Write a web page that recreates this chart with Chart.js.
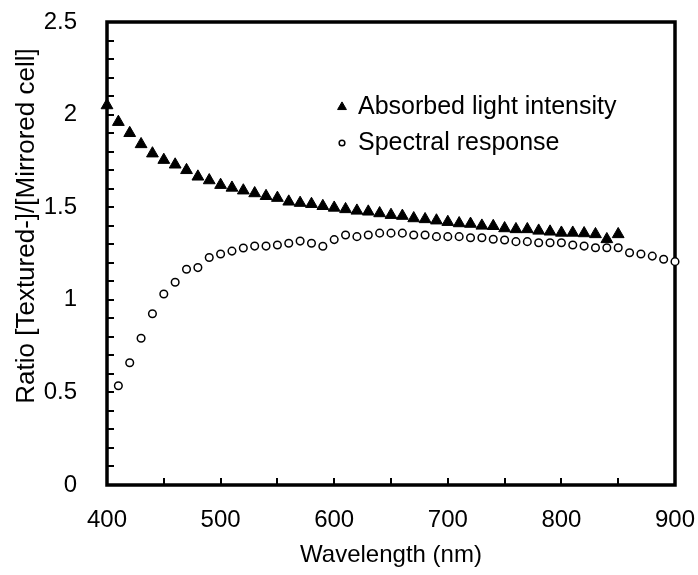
<!DOCTYPE html>
<html>
<head>
<meta charset="utf-8">
<script src="https://cdn.jsdelivr.net/npm/chart.js@4.4.0/dist/chart.umd.min.js"></script>
<style>
  html, body { margin: 0; padding: 0; background: #fff; }
</style>
</head>
<body>
<canvas id="chart" width="698" height="575"></canvas>
<script>
// absorbed light intensity ratio (triangles)
const absWavelength = [400, 410, 420, 430, 440, 450, 460, 470, 480, 490,
  500, 510, 520, 530, 540, 550, 560, 570, 580, 590,
  600, 610, 620, 630, 640, 650, 660, 670, 680, 690,
  700, 710, 720, 730, 740, 750, 760, 770, 780, 790,
  800, 810, 820, 830, 840, 850];
const absorbedLight = [2.05, 1.96, 1.90, 1.84, 1.79, 1.755, 1.73, 1.70, 1.665, 1.645,
  1.62, 1.605, 1.59, 1.575, 1.56, 1.55, 1.53, 1.523, 1.517, 1.506,
  1.497, 1.489, 1.481, 1.476, 1.467, 1.458, 1.453, 1.44, 1.435, 1.428,
  1.42, 1.413, 1.41, 1.40, 1.398, 1.386, 1.381, 1.381, 1.373, 1.368,
  1.362, 1.362, 1.359, 1.354, 1.327, 1.354];

// spectral response ratio (open circles)
const srWavelength = [410, 420, 430, 440, 450, 460, 470, 480, 490,
  500, 510, 520, 530, 540, 550, 560, 570, 580, 590,
  600, 610, 620, 630, 640, 650, 660, 670, 680, 690,
  700, 710, 720, 730, 740, 750, 760, 770, 780, 790,
  800, 810, 820, 830, 840, 850, 860, 870, 880, 890, 900];
const spectralResponse = [0.536, 0.66, 0.792, 0.925, 1.031, 1.095, 1.165, 1.174, 1.228,
  1.247, 1.263, 1.28, 1.29, 1.29, 1.296, 1.305, 1.317, 1.305, 1.289,
  1.325, 1.35, 1.341, 1.35, 1.36, 1.36, 1.36, 1.35, 1.35, 1.341,
  1.341, 1.341, 1.335, 1.335, 1.327, 1.323, 1.314, 1.314, 1.308, 1.308,
  1.308, 1.296, 1.29, 1.281, 1.281, 1.281, 1.254, 1.247, 1.236, 1.219, 1.206];

const seriesNames = ["Absorbed light intensity", "Spectral response"];
const xTickLabels = [400, 500, 600, 700, 800, 900];
const yTickLabels = [0, 0.5, 1, 1.5, 2, 2.5];
const xMinorStep = 50;
const yMinorStep = 0.1;
const yTitle = "Ratio [Textured-]/[Mirrored cell]";

const fontFamily = 'Arial, "Liberation Sans", sans-serif';
Chart.defaults.font.family = fontFamily;
Chart.defaults.font.size = 24;
Chart.defaults.color = "#000";

const toPoints = (xs, ys) => xs.map((x, i) => ({ x: x, y: ys[i] }));

// frame + inward tick marks, like the original spreadsheet plot
const frameTicks = {
  id: "frameTicks",
  beforeDatasetsDraw(chart) {
    const { ctx, chartArea: a, scales: { x, y } } = chart;
    ctx.save();
    ctx.strokeStyle = "#000";
    ctx.lineWidth = 2;
    ctx.beginPath();
    for (let v = y.min; v <= y.max + 1e-9; v += yMinorStep) {
      const py = Math.round(y.getPixelForValue(v));
      ctx.moveTo(a.left, py);
      ctx.lineTo(a.left + 7, py);
    }
    for (let v = x.min; v <= x.max; v += xMinorStep) {
      const px = Math.round(x.getPixelForValue(v));
      ctx.moveTo(px, a.bottom);
      ctx.lineTo(px, a.bottom - 7);
    }
    ctx.stroke();
    ctx.lineWidth = 3.5;
    ctx.strokeRect(a.left, a.top, a.right - a.left, a.bottom - a.top);

    // y title sits a bit above the middle in the original
    ctx.font = "26px " + fontFamily;
    ctx.fillStyle = "#000";
    ctx.textAlign = "center";
    ctx.textBaseline = "middle";
    ctx.translate(27, 226);
    ctx.rotate(-Math.PI / 2);
    ctx.fillText(yTitle, 0, 0);
    ctx.restore();
  }
};

// legend sits inside the plot area
const insideLegend = {
  id: "insideLegend",
  afterDatasetsDraw(chart) {
    const { ctx, chartArea: a } = chart;
    ctx.save();
    ctx.font = "25px " + fontFamily;
    ctx.textBaseline = "middle";
    chart.data.datasets.forEach((ds, i) => {
      const lx = a.left + 235;
      const ly = a.top + 85 + i * 36;
      ctx.fillStyle = ds.pointBackgroundColor;
      ctx.strokeStyle = ds.pointBorderColor;
      ctx.lineWidth = ds.pointBorderWidth;
      Chart.helpers.drawPoint(ctx, {
        pointStyle: ds.pointStyle,
        radius: ds.pointRadius * 0.75,
        borderWidth: ds.pointBorderWidth,
        rotation: 0
      }, lx, ly);
      ctx.fillStyle = "#000";
      ctx.fillText(ds.label, lx + 16, ly);
    });
    ctx.restore();
  }
};

new Chart(document.getElementById("chart"), {
  type: "scatter",
  data: {
    datasets: [
      {
        label: seriesNames[0],
        data: toPoints(absWavelength, absorbedLight),
        pointStyle: "triangle",
        pointRadius: 6.8,
        pointBorderWidth: 1,
        pointBackgroundColor: "#000",
        pointBorderColor: "#000",
        showLine: false,
        clip: false
      },
      {
        label: seriesNames[1],
        data: toPoints(srWavelength, spectralResponse),
        pointStyle: "circle",
        pointRadius: 3.8,
        pointBorderWidth: 1.5,
        pointBackgroundColor: "#fff",
        pointBorderColor: "#000",
        showLine: false,
        clip: false
      }
    ]
  },
  options: {
    responsive: false,
    animation: false,
    layout: { padding: { top: 22, right: 23, left: 0, bottom: 0 } },
    plugins: { legend: { display: false }, tooltip: { enabled: false } },
    scales: {
      x: {
        type: "linear",
        min: 400,
        max: 900,
        afterBuildTicks: (s) => { s.ticks = xTickLabels.map(v => ({ value: v })); },
        afterFit: (s) => { s.height = 90; s.paddingLeft = 0; s.paddingRight = 0; },
        grid: { display: false, drawTicks: false },
        border: { display: false },
        ticks: { padding: 21, maxRotation: 0, callback: (v) => String(v) },
        title: { display: true, text: "Wavelength (nm)", padding: { top: 0, bottom: 5 } }
      },
      y: {
        type: "linear",
        min: 0,
        max: 2.5,
        afterBuildTicks: (s) => { s.ticks = yTickLabels.map(v => ({ value: v })); },
        afterFit: (s) => { s.width = 107; s.paddingTop = 0; s.paddingBottom = 0; },
        grid: { display: false, drawTicks: false },
        border: { display: false },
        ticks: { padding: 30, callback: (v) => String(v) },
        title: { display: false }
      }
    }
  },
  plugins: [frameTicks, insideLegend]
});
</script>
</body>
</html>
